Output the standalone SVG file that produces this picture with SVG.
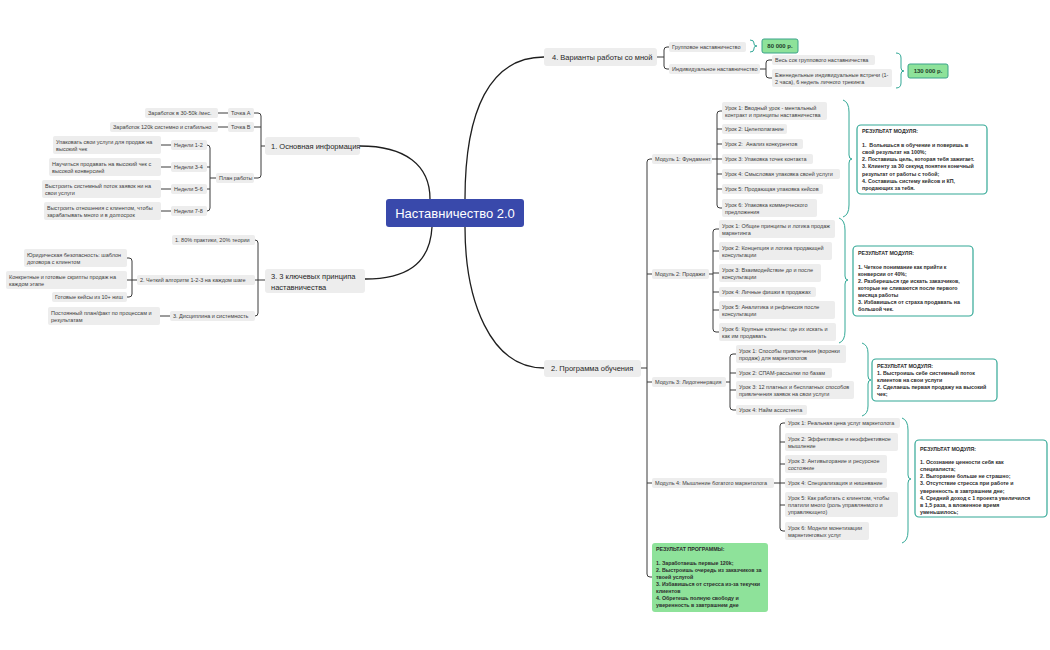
<svg xmlns="http://www.w3.org/2000/svg" width="1050" height="650" viewBox="0 0 1050 650">
<style>
text{font-family:"Liberation Sans",Arial,sans-serif;dominant-baseline:central;fill:#3c3c3c;font-size:5.5px}
.m{font-size:7.5px;fill:#262626}
.r{font-size:5.3px;font-weight:bold;fill:#2c2c2c}
.p{font-size:6px;font-weight:bold;fill:#1f3d2a}
.ct{font-size:13px;fill:#fff;text-anchor:middle}
.n{fill:#ededed}
.c{fill:none;stroke:#3a3a3a;stroke-width:1}
.mc{fill:none;stroke:#1e1e1e;stroke-width:1.3}
.br{fill:none;stroke:#32a896;stroke-width:1}
.res{fill:#fff;stroke:#32a896;stroke-width:1.2}
.g{fill:#8ee29a;stroke:#3aa38a;stroke-width:1}
.gp{fill:#8ee29a}
</style>
<rect width="1050" height="650" fill="#fff"/>
<g id="connectors">
<path class="mc" d="M465,199 C465,110 490,57 544,57"/>
<path class="mc" d="M430,199 C430,165 405,146 360,146"/>
<path class="mc" d="M432,227 C430,265 405,279 365,279"/>
<path class="mc" d="M465,227 C465,300 490,368 544,368"/>
<path class="c" d="M657,57 H664 M669,47 H667 Q664,47 664,50 V66 Q664,69 667,69 H669"/>
<path class="c" d="M760,69 H766 M772,60 H769 Q766,60 766,63 V75 Q766,78 769,78 H772"/>
<path class="c" d="M265,146 H261 M254,113 H258 Q261,113 261,116 V175 Q261,178 258,178 H254 M254,127 H261"/>
<path class="c" d="M218,113 H228 M218,127 H228"/>
<path class="c" d="M216,178 H210 M207,145 Q210,145 210,148 V208 Q210,211 207,211 M207,167 H210 M207,189 H210"/>
<path class="c" d="M161,145 H171 M161,167 H171 M161,189 H171 M161,211 H171"/>
<path class="c" d="M265,280 H258 M255,240 Q258,240 258,243 V313 Q258,316 255,316 M255,280 H258"/>
<path class="c" d="M137,280 H132 M127,258 H129 Q132,258 132,261 V294 Q132,297 129,297 H127 M127,280 H132"/>
<path class="c" d="M160,316 H170"/>
<path class="c" d="M641,368 H647 M652,159 H650 Q647,159 647,162 V574 Q647,577 650,577 H652 M647,274 H652 M647,382 H652 M647,483 H652"/>
<path class="c" d="M712,159 H717 M722,111 H720 Q717,111 717,114 V205 Q717,208 720,208 H722 M717,129 H722 M717,144 H722 M717,159 H722 M717,174 H722 M717,189 H722"/>
<path class="c" d="M709,274 H713 M719,229 H716 Q713,229 713,232 V329 Q713,332 716,332 H719 M713,251 H719 M713,273 H719 M713,292 H719 M713,310 H719"/>
<path class="c" d="M726,382 H730 M736,354 H733 Q730,354 730,357 V407 Q730,410 733,410 H736 M730,373 H736 M730,390 H736"/>
<path class="c" d="M774,483 H780 M785,423 H783 Q780,423 780,426 V528 Q780,531 783,531 H785 M780,442 H785 M780,464 H785 M780,483 H785 M780,505 H785"/>
<path class="br" d="M750,40 Q754,40 754,43 V44 Q754,46 757,46 Q754,46 754,48 V49 Q754,52 750,52"/>
<path class="br" d="M896,53 Q901,53 901,58 V68 Q901,71 904,71 Q901,71 901,74 V83 Q901,88 896,88"/>
<path class="br" d="M843,100 Q849,102 849,112 V155 Q849,159 852,159 Q849,159 849,163 V205 Q849,215 843,217"/>
<path class="br" d="M839,218 Q845,220 845,230 V276 Q845,280 848,280 Q845,280 845,284 V331 Q845,341 839,343"/>
<path class="br" d="M862,343 Q868,345 868,353 V376 Q868,380 871,380 Q868,380 868,384 V406 Q868,414 862,416"/>
<path class="br" d="M902,418 Q908,420 908,430 V475 Q908,479 911,479 Q908,479 908,483 V531 Q908,541 902,543"/>
</g>
<g id="center"><rect x="386" y="199" width="138" height="28" rx="3" fill="#3949ab"/><text class="ct" x="455" y="213">Наставничество 2.0</text></g>
<g id="b4"><rect class="n" x="544" y="48" width="113" height="18" rx="3"/><text class="m" x="552" y="57">4. Варианты работы со мной</text></g>
<g id="b4-group"><rect class="n" x="669" y="42" width="77" height="10" rx="2"/><text x="672" y="47">Групповое наставничество</text></g>
<g id="price-80"><rect class="g" x="762" y="39" width="36" height="14" rx="2"/><text class="p" x="780" y="46" text-anchor="middle">80 000 р.</text></g>
<g id="b4-indiv"><rect class="n" x="669" y="64" width="91" height="10" rx="2"/><text x="672" y="69">Индивидуальное наставничество</text></g>
<g id="b4-indiv-1"><rect class="n" x="772" y="55" width="103" height="10" rx="2"/><text x="775" y="60">Весь сок группового наставничества</text></g>
<g id="b4-indiv-2"><rect class="n" x="772" y="69" width="120" height="18" rx="2"/><text x="775" y="74.5">Еженедельные индивидуальные встречи (1-</text><text x="775" y="82">2 часа), 6 недель личного трекинга</text></g>
<g id="price-130"><rect class="g" x="908" y="64" width="40" height="14" rx="2"/><text class="p" x="928" y="71" text-anchor="middle">130 000 р.</text></g>

<g id="b1"><rect class="n" x="265" y="137" width="95" height="18" rx="3"/><text class="m" x="271" y="146">1. Основная информация</text></g>
<g id="b1-a"><rect class="n" x="228" y="108" width="26" height="10" rx="2"/><text x="231" y="113">Точка А</text></g>
<g id="b1-a1"><rect class="n" x="145" y="108" width="73" height="10" rx="2"/><text x="148" y="113">Заработок в 30-50k /мес.</text></g>
<g id="b1-b"><rect class="n" x="228" y="122" width="26" height="10" rx="2"/><text x="231" y="127">Точка B</text></g>
<g id="b1-b1"><rect class="n" x="110" y="122" width="108" height="10" rx="2"/><text x="113" y="127">Заработок 120k системно и стабильно</text></g>
<g id="b1-plan"><rect class="n" x="216" y="173" width="38" height="10" rx="2"/><text x="219" y="178">План работы</text></g>
<g id="w12"><rect class="n" x="171" y="140" width="36" height="10" rx="2"/><text x="174" y="145">Недели 1-2</text></g>
<g id="w34"><rect class="n" x="171" y="162" width="36" height="10" rx="2"/><text x="174" y="167">Недели 3-4</text></g>
<g id="w56"><rect class="n" x="171" y="184" width="36" height="10" rx="2"/><text x="174" y="189">Недели 5-6</text></g>
<g id="w78"><rect class="n" x="171" y="206" width="36" height="10" rx="2"/><text x="174" y="211">Недели 7-8</text></g>
<g id="w12-t"><rect class="n" x="53" y="136" width="108" height="18" rx="2"/><text x="56" y="141.5">Упаковать свои услуги для продаж на</text><text x="56" y="149">высокий чек</text></g>
<g id="w34-t"><rect class="n" x="49" y="158" width="112" height="18" rx="2"/><text x="52" y="163.5">Научиться продавать на высокий чек с</text><text x="52" y="171">высокой конверсией</text></g>
<g id="w56-t"><rect class="n" x="42" y="180" width="119" height="18" rx="2"/><text x="45" y="185.5">Выстроить системный поток заявок ни на</text><text x="45" y="193">свои услуги</text></g>
<g id="w78-t"><rect class="n" x="44" y="202" width="117" height="18" rx="2"/><text x="47" y="207.5">Выстроить отношения с клиентом, чтобы</text><text x="47" y="215">зарабатывать много и в долгосрок</text></g>

<g id="b3"><rect class="n" x="265" y="269" width="100" height="24" rx="3"/><text class="m" x="271" y="276">3. 3 ключевых принципа</text><text class="m" x="271" y="287">наставничества</text></g>
<g id="b3-1"><rect class="n" x="172" y="235" width="83" height="10" rx="2"/><text x="175" y="240">1. 80% практики, 20% теории</text></g>
<g id="b3-2"><rect class="n" x="137" y="275" width="118" height="10" rx="2"/><text x="140" y="280">2. Четкий алгоритм 1-2-3 на каждом шаге</text></g>
<g id="b3-3"><rect class="n" x="170" y="311" width="85" height="10" rx="2"/><text x="173" y="316">3. Дисциплина и системность</text></g>
<g id="b3-2a"><rect class="n" x="24" y="249" width="103" height="18" rx="2"/><text x="27" y="254.5">Юридическая безопасность: шаблон</text><text x="27" y="262">договора с клиентом</text></g>
<g id="b3-2b"><rect class="n" x="6" y="271" width="121" height="18" rx="2"/><text x="9" y="276.5">Конкретные и готовые скрипты продаж на</text><text x="9" y="284">каждом этапе</text></g>
<g id="b3-2c"><rect class="n" x="52" y="292" width="75" height="10" rx="2"/><text x="55" y="297">Готовые кейсы из 10+ ниш</text></g>
<g id="b3-3a"><rect class="n" x="48" y="307" width="112" height="18" rx="2"/><text x="51" y="312.5">Постоянный план/факт по процессам и</text><text x="51" y="320">результатам</text></g>

<g id="b2"><rect class="n" x="544" y="360" width="97" height="17" rx="3"/><text class="m" x="551" y="368.5">2. Программа обучения</text></g>

<g id="m1"><rect class="n" x="652" y="154" width="60" height="10" rx="2"/><text x="655" y="159">Модуль 1: Фундамент</text></g>
<g id="m1-1"><rect class="n" x="722" y="102" width="105" height="18" rx="2"/><text x="725" y="107.5">Урок 1: Вводный урок - ментальный</text><text x="725" y="115">контракт и принципы наставничества</text></g>
<g id="m1-2"><rect class="n" x="722" y="124" width="65" height="10" rx="2"/><text x="725" y="129">Урок 2: Целеполагание</text></g>
<g id="m1-3"><rect class="n" x="722" y="139" width="81" height="10" rx="2"/><text x="725" y="144" xml:space="preserve">Урок 2:  Анализ конкурентов</text></g>
<g id="m1-4"><rect class="n" x="722" y="154" width="91" height="10" rx="2"/><text x="725" y="159">Урок 3: Упаковка точек контакта</text></g>
<g id="m1-5"><rect class="n" x="722" y="169" width="118" height="10" rx="2"/><text x="725" y="174">Урок 4: Смысловая упаковка своей услуги</text></g>
<g id="m1-6"><rect class="n" x="722" y="184" width="101" height="10" rx="2"/><text x="725" y="189">Урок 5: Продающая упаковка кейсов</text></g>
<g id="m1-7"><rect class="n" x="722" y="199" width="95" height="18" rx="2"/><text x="725" y="204.5">Урок 6: Упаковка коммерческого</text><text x="725" y="212">предложения</text></g>
<g id="m1-res"><rect class="res" x="857" y="125" width="130" height="69" rx="4"/>
<text class="r" x="862" y="131">РЕЗУЛЬТАТ МОДУЛЯ:</text>
<text class="r" x="862" y="145" xml:space="preserve">1.  Вольешься в обучение и поверишь в</text>
<text class="r" x="862" y="152">свой результат на 100%;</text>
<text class="r" x="862" y="159.2">2. Поставишь цель, которая тебя зажигает.</text>
<text class="r" x="862" y="166.4">3. Клиенту за 30 секунд понятен конечный</text>
<text class="r" x="862" y="173.6">результат от работы с тобой;</text>
<text class="r" x="862" y="181">4. Составишь систему кейсов и КП,</text>
<text class="r" x="862" y="188.2">продающих за тебя.</text></g>

<g id="m2"><rect class="n" x="652" y="269" width="57" height="10" rx="2"/><text x="655" y="274">Модуль 2: Продажи</text></g>
<g id="m2-1"><rect class="n" x="719" y="220" width="116" height="18" rx="2"/><text x="722" y="225.5">Урок 1: Общие принципы и логика продаж</text><text x="722" y="233">маркетинга</text></g>
<g id="m2-2"><rect class="n" x="719" y="242" width="113" height="18" rx="2"/><text x="722" y="247.5">Урок 2: Концепция и логика продающей</text><text x="722" y="255">консультации</text></g>
<g id="m2-3"><rect class="n" x="719" y="264" width="102" height="18" rx="2"/><text x="722" y="269.5">Урок 3: Взаимодействие до и после</text><text x="722" y="277">консультации</text></g>
<g id="m2-4"><rect class="n" x="719" y="287" width="97" height="10" rx="2"/><text x="722" y="292">Урок 4: Личные фишки в продажах</text></g>
<g id="m2-5"><rect class="n" x="719" y="301" width="116" height="18" rx="2"/><text x="722" y="306.5">Урок 5: Аналитика и рефлексия после</text><text x="722" y="314">консультации</text></g>
<g id="m2-6"><rect class="n" x="719" y="323" width="117" height="18" rx="2"/><text x="722" y="328.5">Урок 6: Крупные клиенты: где их искать и</text><text x="722" y="336">как им продавать</text></g>
<g id="m2-res"><rect class="res" x="853" y="246" width="120" height="70" rx="4"/>
<text class="r" x="858" y="253">РЕЗУЛЬТАТ МОДУЛЯ:</text>
<text class="r" x="858" y="267">1. Четкое понимание как прийти к</text>
<text class="r" x="858" y="274">конверсии от 40%;</text>
<text class="r" x="858" y="281">2. Разберешься где искать заказчиков,</text>
<text class="r" x="858" y="288">которые не сливаются после первого</text>
<text class="r" x="858" y="295">месяца работы</text>
<text class="r" x="858" y="302">3. Избавишься от страха продавать на</text>
<text class="r" x="858" y="309">большой чек.</text></g>

<g id="m3"><rect class="n" x="652" y="377" width="74" height="10" rx="2"/><text x="655" y="382">Модуль 3: Лидогенерация</text></g>
<g id="m3-1"><rect class="n" x="736" y="345" width="110" height="18" rx="2"/><text x="739" y="350.5">Урок 1: Способы привлечения (воронки</text><text x="739" y="358">продаж) для маркетологов</text></g>
<g id="m3-2"><rect class="n" x="736" y="368" width="96" height="10" rx="2"/><text x="739" y="373">Урок 2: СПАМ-рассылки по базам</text></g>
<g id="m3-3"><rect class="n" x="736" y="381" width="118" height="18" rx="2"/><text x="739" y="386.5">Урок 3: 12 платных и бесплатных способов</text><text x="739" y="394">привлечения заявок на свои услуги</text></g>
<g id="m3-4"><rect class="n" x="736" y="405" width="71" height="10" rx="2"/><text x="739" y="410">Урок 4: Найм ассистента</text></g>
<g id="m3-res"><rect class="res" x="872" y="359" width="125" height="42" rx="4"/>
<text class="r" x="877" y="365.5">РЕЗУЛЬТАТ МОДУЛЯ:</text>
<text class="r" x="877" y="373">1. Выстроишь себе системный поток</text>
<text class="r" x="877" y="380">клиентов на свои услуги</text>
<text class="r" x="877" y="387">2. Сделаешь первая продажу на высокий</text>
<text class="r" x="877" y="394">чек;</text></g>

<g id="m4"><rect class="n" x="652" y="478" width="122" height="10" rx="2"/><text x="655" y="483">Модуль 4: Мышление богатого маркетолога</text></g>
<g id="m4-1"><rect class="n" x="785" y="418" width="115" height="10" rx="2"/><text x="788" y="423">Урок 1: Реальная цена услуг маркетолога</text></g>
<g id="m4-2"><rect class="n" x="785" y="433" width="113" height="18" rx="2"/><text x="788" y="438.5">Урок 2: Эффективное и неэффективное</text><text x="788" y="446">мышление</text></g>
<g id="m4-3"><rect class="n" x="785" y="455" width="102" height="18" rx="2"/><text x="788" y="460.5">Урок 3: Антивыгорание и ресурсное</text><text x="788" y="468">состояние</text></g>
<g id="m4-4"><rect class="n" x="785" y="478" width="102" height="10" rx="2"/><text x="788" y="483">Урок 4: Специализация и нишевание</text></g>
<g id="m4-5"><rect class="n" x="785" y="492" width="113" height="25" rx="2"/><text x="788" y="497.5">Урок 5: Как работать с клиентом, чтобы</text><text x="788" y="505">платили много (роль управляемого и</text><text x="788" y="512">управляющего)</text></g>
<g id="m4-6"><rect class="n" x="785" y="522" width="84" height="18" rx="2"/><text x="788" y="527.5">Урок 6: Модели монетизации</text><text x="788" y="535">маркетинговых услуг</text></g>
<g id="m4-res"><rect class="res" x="915" y="440" width="132" height="77" rx="4"/>
<text class="r" x="920" y="449">РЕЗУЛЬТАТ МОДУЛЯ:</text>
<text class="r" x="920" y="462">1. Осознание ценности себя как</text>
<text class="r" x="920" y="469">специалиста;</text>
<text class="r" x="920" y="476.2">2. Выгорание больше не страшно;</text>
<text class="r" x="920" y="483.4">3. Отсутствие стресса при работе и</text>
<text class="r" x="920" y="490.6">уверенность в завтрашнем дне;</text>
<text class="r" x="920" y="497.8">4. Средний доход с 1 проекта увеличился</text>
<text class="r" x="920" y="505">в 1,5 раза, а вложенное время</text>
<text class="r" x="920" y="512">уменьшилось;</text></g>

<g id="program-res"><rect class="gp" x="652" y="543" width="116" height="69" rx="3"/>
<text class="r" x="656" y="548.5">РЕЗУЛЬТАТ ПРОГРАММЫ:</text>
<text class="r" x="656" y="562.5">1. Заработаешь первые 120k;</text>
<text class="r" x="656" y="569.5">2. Выстроишь очередь из заказчиков за</text>
<text class="r" x="656" y="576.5">твоей услугой</text>
<text class="r" x="656" y="583.5">3. Избавишься от стресса из-за текучки</text>
<text class="r" x="656" y="590.5">клиентов</text>
<text class="r" x="656" y="597.5">4. Обретешь полную свободу и</text>
<text class="r" x="656" y="604.5">уверенность в завтрашнем дне</text></g>
</svg>
